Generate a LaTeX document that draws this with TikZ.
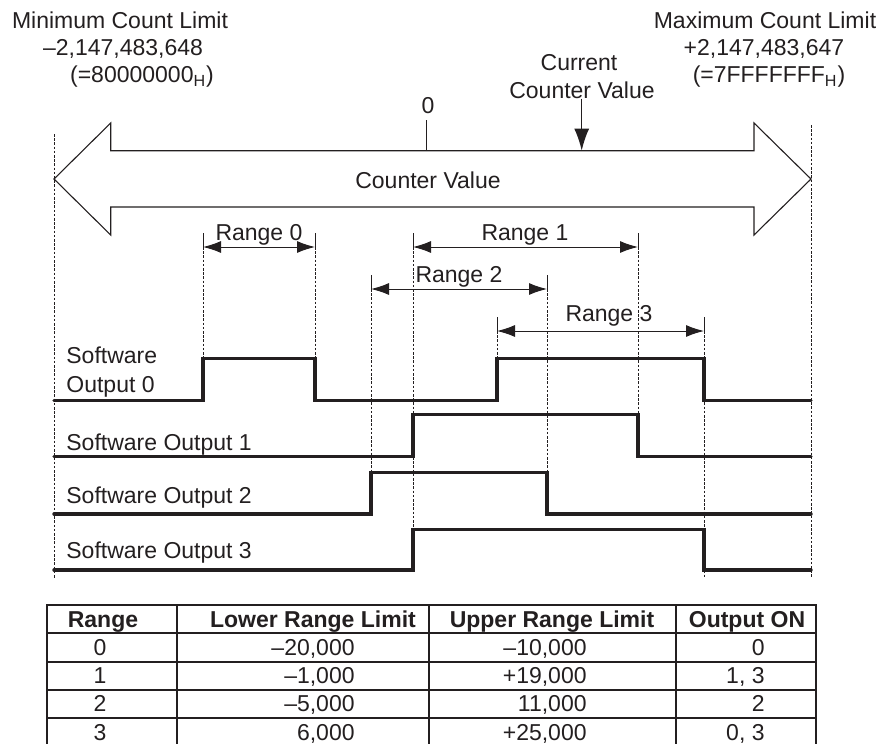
\documentclass[tikz,border=0pt]{standalone}
\usepackage{fontspec}
\setmainfont{Liberation Sans}
\usepackage{tikz}
\usetikzlibrary{arrows.meta,positioning,calc}
\usepackage{xcolor}
\definecolor{inkblack}{HTML}{231F20}

\begin{document}
\begin{tikzpicture}[
  x=0.5pt, y=-0.5pt,
  font=\fontsize{11.5}{14}\selectfont,
  lbl/.style={anchor=base, inner sep=0pt, text=inkblack},
  lblleft/.style={anchor=base west, inner sep=0pt, text=inkblack},
  numcell/.style={anchor=base east, inner sep=0pt, text=inkblack},
  hdrcell/.style={anchor=base, inner sep=0pt, text=inkblack, font=\fontsize{11.5}{14}\selectfont\bfseries},
  guide/.style={draw=inkblack, line width=0.45pt, dash pattern=on 1.3pt off 0.8pt},
  tickline/.style={draw=inkblack, line width=0.5pt},
  rangearrow/.style={draw=inkblack, line width=0.5pt,
    {Latex[length=9pt,width=6pt]}-{Latex[length=9pt,width=6pt]}},
  pointer/.style={draw=inkblack, line width=0.75pt, -{Latex[length=11pt,width=7.5pt]}},
  wave/.style={draw=inkblack, line width=1.7pt, line cap=round},
  bigarrow/.style={draw=inkblack, line width=0.55pt, fill=white},
  tblline/.style={draw=inkblack, line width=0.6pt}
]
  \useasboundingbox (0,0) rectangle (889,744);

  % --- Count limits and current value ---
  \node[lbl] (minhead) at (120,28) {Minimum Count Limit};
  \node[lbl] (minval)  at (123,55) {\textendash 2,147,483,648};
  \node[lbl] (minhex)  at (142,83) {(=80000000\textsubscript{H})};

  \node[lbl] (maxhead) at (765,28) {Maximum Count Limit};
  \node[lbl] (maxval)  at (764,55) {+2,147,483,647};
  \node[lbl] (maxhex)  at (769,83) {(=7FFFFFFF\textsubscript{H})};

  \node[lbl] (curhead) at (579,70) {Current};
  \node[lbl] (curval)  at (582,98) {Counter Value};
  \coordinate (curbot) at (581.7,150.7);

  \node[lbl] (zero) at (428,113) {0};
  \coordinate (zerobot) at (426.7,150.7);

  % --- Guide lines ---
  \draw[guide] (54,134) -- (54,578);
  \draw[guide] (811,125) -- (811,578);

  \coordinate (r0a) at (203,247);  \coordinate (r0b) at (315,247);
  \coordinate (r1a) at (413,247);  \coordinate (r1b) at (638,247);
  \coordinate (r2a) at (371,289);  \coordinate (r2b) at (547,289);
  \coordinate (r3a) at (497,331);  \coordinate (r3b) at (704,331);

  \foreach \c/\y in {r0a/358.3, r0b/358.3, r1a/529.3, r1b/414.3,
                     r2a/472.3, r2b/472.3, r3a/358.3, r3b/578}
    \draw[guide] (\c) -- (\c |- 0,\y);
  \foreach \c in {r0a,r0b,r1a,r1b,r2a,r2b,r3a,r3b}
    \draw[tickline] (\c) -- ++(0,-14);

  % --- Counter value arrow ---
  \draw[bigarrow] (54,179) -- (110.7,123) -- (110.7,150.7) -- (754,150.7)
    -- (754,123) -- (811,179) -- (754,235) -- (754,207) -- (110.7,207)
    -- (110.7,235) -- cycle;
  \node[lbl] (cntval) at (428,188) {Counter Value};
  \draw[line width=0.65pt, draw=inkblack] (zerobot |- 0,120) -- (zerobot);
  \draw[pointer] (curbot |- curval.south) -- (curbot);

  % --- Ranges ---
  \draw[rangearrow] (r0a) -- (r0b);
  \draw[rangearrow] (r1a) -- (r1b);
  \draw[rangearrow] (r2a) -- (r2b);
  \draw[rangearrow] (r3a) -- (r3b);
  \node[lbl] (range0) at (259,240) {Range 0};
  \node[lbl] (range1) at (525,240) {Range 1};
  \node[lbl] (range2) at (459,282) {Range 2};
  \node[lbl] (range3) at (609,321) {Range 3};

  % --- Software outputs ---
  \node[lblleft] (out0a) at (66,363) {Software};
  \node[lblleft] (out0b) at (66,392) {Output 0};
  \node[lblleft] (out1) at (66,450) {Software Output 1};
  \node[lblleft] (out2) at (66,503) {Software Output 2};
  \node[lblleft] (out3) at (66,558) {Software Output 3};

  \draw[wave] (54,400.7) -| (203,358.3) -| (315,400.7) -| (497,358.3) -| (704,400.7) -- (811,400.7);
  \draw[wave] (54,456.7) -| (413,414.3) -| (638,456.7) -- (811,456.7);
  \draw[wave] (54,514) -| (371,472.3) -| (547,514) -- (811,514);
  \draw[wave] (54,570) -| (413,529.3) -| (704,570) -- (811,570);

  % --- Table ---
  \draw[tblline] (47,605) rectangle (816,746);
  \foreach \x in {177,429,676}
    \draw[tblline] (\x,605) -- (\x,746);
  \foreach \y in {633,662,690,718}
    \draw[tblline] (47,\y) -- (816,\y);

  \node[hdrcell] (hrange) at (103,627) {Range};
  \node[hdrcell] (hlower) at (313,627) {Lower Range Limit};
  \node[hdrcell] (hupper) at (552,627) {Upper Range Limit};
  \node[hdrcell] (hout)   at (747,627) {Output ON};

  \foreach \r/\lo/\up/\on [count=\i from 0] in {
      0/{\textendash 20,000}/{\textendash 10,000}/{0},
      1/{\textendash 1,000}/{+19,000}/{1, 3},
      2/{\textendash 5,000}/{11,000}/{2},
      3/{6,000}/{+25,000}/{0, 3}} {
    \node[lbl] (rng\i) at (100,{655.5+28.2*\i}) {\r};
    \node[numcell] (low\i) at (355,{655.5+28.2*\i}) {\lo};
    \node[numcell] (up\i) at (587,{655.5+28.2*\i}) {\up};
    \node[numcell] (on\i) at (765,{655.5+28.2*\i}) {\on};
  }
\end{tikzpicture}
\end{document}
